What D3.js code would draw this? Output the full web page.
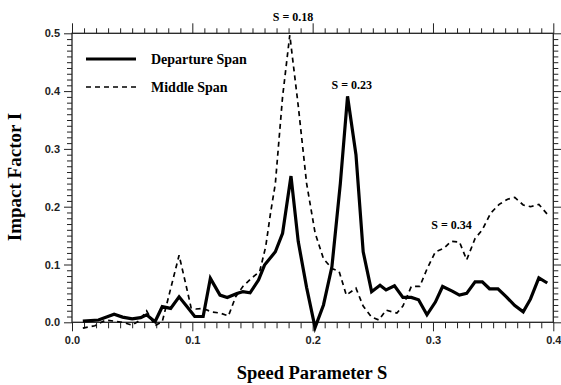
<!DOCTYPE html>
<html><head><meta charset="utf-8">
<script src="https://cdn.jsdelivr.net/npm/d3@7/dist/d3.min.js"></script>
<style>
body{margin:0;background:#fff;}
svg{display:block;}
.tick text{font-family:"Liberation Sans",Arial,sans-serif;font-weight:bold;font-size:11px;fill:#222;}
</style></head>
<body><svg id="c" width="561" height="385"></svg>
<script>
// ---- data ----
const departureS = [0.009,0.022,0.035,0.042,0.050,0.057,0.062,0.069,0.075,0.082,0.089,0.096,0.102,0.109,0.115,0.123,0.129,0.137,0.142,0.148,0.155,0.160,0.169,0.175,0.182,0.188,0.195,0.202,0.209,0.216,0.223,0.229,0.236,0.242,0.249,0.256,0.261,0.268,0.275,0.282,0.288,0.295,0.302,0.308,0.316,0.322,0.328,0.335,0.341,0.347,0.354,0.361,0.368,0.375,0.381,0.388,0.395];
const departureI = [0.002,0.004,0.014,0.009,0.006,0.008,0.013,0.001,0.027,0.024,0.044,0.026,0.010,0.010,0.076,0.047,0.043,0.050,0.053,0.051,0.073,0.099,0.122,0.154,0.253,0.140,0.060,-0.009,0.030,0.096,0.240,0.391,0.290,0.122,0.053,0.064,0.056,0.063,0.043,0.043,0.039,0.013,0.035,0.062,0.054,0.047,0.050,0.070,0.070,0.058,0.058,0.044,0.029,0.018,0.040,0.077,0.068];
const middleS = [0.009,0.019,0.028,0.035,0.042,0.050,0.056,0.062,0.069,0.075,0.081,0.089,0.095,0.099,0.103,0.109,0.116,0.123,0.130,0.136,0.142,0.149,0.156,0.161,0.165,0.169,0.175,0.181,0.188,0.195,0.202,0.209,0.216,0.222,0.228,0.236,0.242,0.249,0.255,0.261,0.270,0.275,0.282,0.289,0.295,0.302,0.309,0.315,0.322,0.328,0.335,0.341,0.348,0.355,0.362,0.368,0.375,0.381,0.388,0.395];
const middleI = [-0.010,-0.006,0.004,0.002,0.000,-0.005,0.003,0.020,-0.006,0.001,0.050,0.116,0.062,0.025,0.023,0.024,0.018,0.016,0.011,0.044,0.062,0.076,0.088,0.131,0.189,0.240,0.390,0.497,0.375,0.240,0.155,0.110,0.093,0.088,0.047,0.059,0.028,0.009,0.004,0.021,0.016,0.028,0.062,0.062,0.092,0.122,0.128,0.140,0.139,0.108,0.145,0.160,0.189,0.204,0.213,0.216,0.203,0.200,0.204,0.187];
const xMajorTicks = [0.0,0.1,0.2,0.3,0.4];
const yMajorTicks = [0.0,0.1,0.2,0.3,0.4,0.5];
const seriesNames = ["Departure Span","Middle Span"];
const annotationLabels = ["S = 0.18","S = 0.23","S = 0.34"];
const annotationS = [0.18,0.23,0.34];

// ---- layout ----
const svg = d3.select("#c");
const x = d3.scaleLinear().domain([0,0.4]).range([72,553.3]);
const y = d3.scaleLinear().domain([0,0.5]).range([322.3,33.3]);
const xMinor = d3.range(0,41).map(i=>i/100).filter(v=>Math.round(v*100)%10!==0);
const yMinor = d3.range(0,51).map(i=>i/100).filter(v=>Math.round(v*100)%10!==0);
const fmt = d3.format(".1f");

function styleAxis(g){ g.select(".domain").remove(); g.selectAll(".tick line").attr("stroke","#222").attr("stroke-width",1); }

// bottom
svg.append("g").attr("transform",`translate(0,${y(0)})`).call(d3.axisBottom(x).tickValues(xMinor).tickSize(6).tickFormat("")).call(styleAxis);
svg.append("g").attr("transform",`translate(0,${y(0)})`).call(d3.axisBottom(x).tickValues(xMajorTicks).tickSize(9).tickPadding(5).tickFormat(fmt)).call(styleAxis);
// top
svg.append("g").attr("transform",`translate(0,${y(0.5)})`).call(d3.axisTop(x).tickValues(xMinor).tickSize(5).tickFormat("")).call(styleAxis);
svg.append("g").attr("transform",`translate(0,${y(0.5)})`).call(d3.axisTop(x).tickValues(xMajorTicks).tickSize(10).tickFormat("")).call(styleAxis);
// left
svg.append("g").attr("transform",`translate(${x(0)},0)`).call(d3.axisLeft(y).tickValues(yMinor).tickSize(5).tickFormat("")).call(styleAxis);
svg.append("g").attr("transform",`translate(${x(0)},0)`).call(d3.axisLeft(y).tickValues(yMajorTicks).tickSize(8).tickPadding(4).tickFormat(fmt)).call(styleAxis);
// right
svg.append("g").attr("transform",`translate(${x(0.4)},0)`).call(d3.axisRight(y).tickValues(yMinor).tickSize(5).tickFormat("")).call(styleAxis);
svg.append("g").attr("transform",`translate(${x(0.4)},0)`).call(d3.axisRight(y).tickValues(yMajorTicks).tickSize(8).tickFormat("")).call(styleAxis);

// frame
svg.append("rect").attr("x",x(0)).attr("y",y(0.5)).attr("width",x(0.4)-x(0)).attr("height",y(0)-y(0.5))
  .attr("fill","none").attr("stroke","#222").attr("stroke-width",1.3);

// lines
const line = d3.line().x(d=>x(d[0])).y(d=>y(d[1]));
svg.append("path").datum(middleS.map((s,i)=>[s,middleI[i]])).attr("d",line)
  .attr("fill","none").attr("stroke","#000").attr("stroke-width",1.7).attr("stroke-dasharray","5,4");
svg.append("path").datum(departureS.map((s,i)=>[s,departureI[i]])).attr("d",line)
  .attr("fill","none").attr("stroke","#000").attr("stroke-width",3.2).attr("stroke-linejoin","miter");

// legend
const serif = "'Liberation Serif','Times New Roman',serif";
svg.append("line").attr("x1",86).attr("x2",136).attr("y1",59).attr("y2",59).attr("stroke","#000").attr("stroke-width",3.2);
svg.append("line").attr("x1",86).attr("x2",136).attr("y1",87).attr("y2",87).attr("stroke","#000").attr("stroke-width",1.7).attr("stroke-dasharray","5,4");
svg.append("text").attr("x",151).attr("y",63.5).text(seriesNames[0]).attr("font-family",serif).attr("font-weight","bold").attr("font-size",14);
svg.append("text").attr("x",151).attr("y",91.5).text(seriesNames[1]).attr("font-family",serif).attr("font-weight","bold").attr("font-size",14);

// annotations (label offsets relative to the peak position)
const annDx = [4.5, 3, -29.5];
const annY = [21, 89, 229];
annotationLabels.forEach((lab,k)=>{
  svg.append("text").attr("x",x(annotationS[k])+annDx[k]).attr("y",annY[k]).attr("text-anchor","middle")
    .attr("font-family",serif).attr("font-weight","bold").attr("font-size",12).text(lab);
});

// axis titles
svg.append("text").attr("x",312).attr("y",379).attr("text-anchor","middle").attr("font-family",serif)
  .attr("font-weight","bold").attr("font-size",18.5).text("Speed Parameter S");
svg.append("text").attr("transform","translate(21,177) rotate(-90)").attr("text-anchor","middle").attr("font-family",serif)
  .attr("font-weight","bold").attr("font-size",19).text("Impact Factor I");
</script></body></html>
